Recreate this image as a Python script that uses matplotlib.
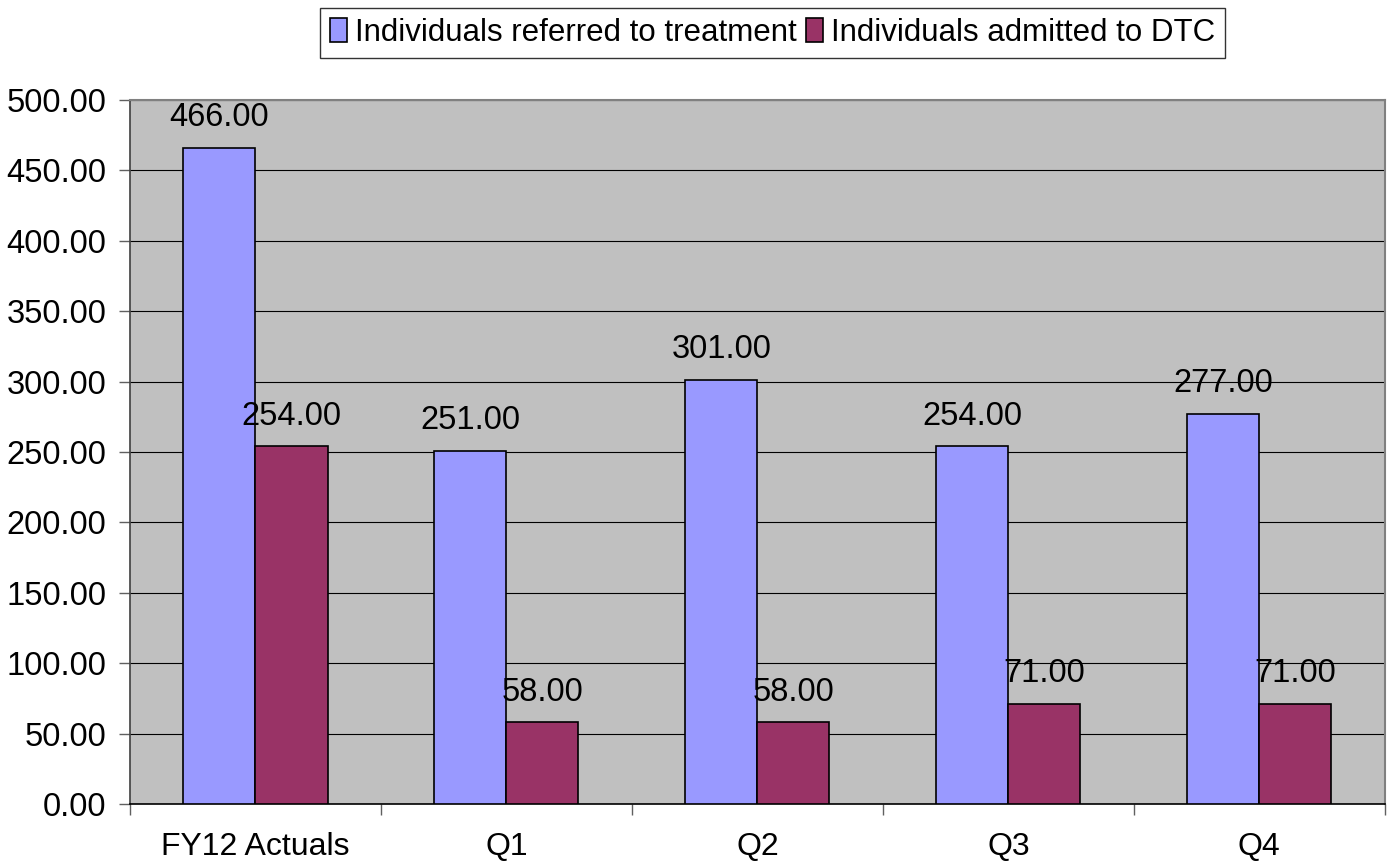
import matplotlib.pyplot as plt
import numpy as np
from matplotlib.ticker import FixedLocator, FormatStrFormatter

plt.rcParams["font.family"] = ["Liberation Sans", "DejaVu Sans"]

categories = ["FY12 Actuals", "Q1", "Q2", "Q3", "Q4"]
referred = [466, 251, 301, 254, 277]
admitted = [254, 58, 58, 71, 71]
series_names = ["Individuals referred to treatment", "Individuals admitted to DTC"]

BLUE = "#9999FF"
PLUM = "#993366"

fig = plt.figure(figsize=(13.89, 8.67), dpi=100)
ax = fig.add_axes([0.0936, 0.0727, 0.9034, 0.812])
ax.set_facecolor("#C0C0C0")

x = np.arange(len(categories))
width = 0.287
b1 = ax.bar(x - width / 2, referred, width, color=BLUE, edgecolor="black", linewidth=1.2,
            label=series_names[0], zorder=3)
b2 = ax.bar(x + width / 2, admitted, width, color=PLUM, edgecolor="black", linewidth=1.2,
            label=series_names[1], zorder=3)

for bars, vals in ((b1, referred), (b2, admitted)):
    for rect, v in zip(bars, vals):
        ax.text(rect.get_x() + rect.get_width() / 2, v + 21.5, f"{v:.2f}",
                ha="center", va="center", fontsize=23.5, zorder=4)

ax.set_xlim(-0.5, len(categories) - 0.5)
ax.set_ylim(0, 500)
ax.set_yticks(np.arange(0, 501, 50))
ax.yaxis.set_major_formatter(FormatStrFormatter("%.2f"))
ax.grid(axis="y", color="black", linewidth=0.8, zorder=1)

ax.set_xticks(x)
ax.set_xticklabels(categories)
ax.xaxis.set_minor_locator(FixedLocator(np.arange(-0.5, len(categories), 1.0)))
ax.tick_params(axis="x", which="major", length=0, pad=20, labelsize=23)
ax.tick_params(axis="x", which="minor", length=8, width=1, color="#606060")
ax.tick_params(axis="y", length=8, width=1, color="#606060", labelsize=23.5, pad=9)

for side in ("top", "right"):
    ax.spines[side].set_color("#808080")
    ax.spines[side].set_linewidth(1.5)
ax.spines["left"].set_color("#404040")
ax.spines["left"].set_linewidth(1.2)
ax.spines["bottom"].set_color("black")
ax.spines["bottom"].set_linewidth(1.2)

leg = fig.legend(loc="upper center", bbox_to_anchor=(0.556, 0.991), ncol=2, fontsize=22.5,
                 frameon=True, fancybox=False, edgecolor="black", handlelength=0.55,
                 handleheight=0.8, handletextpad=0.25, columnspacing=0.3,
                 borderpad=0.32, borderaxespad=0)
leg.get_frame().set_linewidth(1.0)

fig.savefig("out.png", dpi=100, facecolor="white")
